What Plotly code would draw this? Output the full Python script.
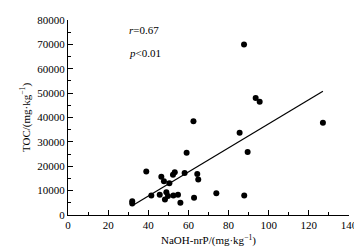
import plotly.graph_objects as go

# NaOH-nrP (mg/kg) vs TOC (mg/kg)
naoh_nrp = [32, 32, 39, 41.5, 45.7, 46.5, 47.8, 48.3, 49.0, 49.8, 50.5, 52.3, 53.2,
            52.5, 54.8, 56.0, 58.1, 59.1, 62.8, 62.5, 64.4, 64.9, 73.9, 85.5, 87.8,
            87.7, 89.5, 93.5, 95.5, 127]
toc = [5600, 4700, 17800, 8000, 8300, 15700, 13800, 6400, 9300, 7800, 13000, 16500, 17500,
       8000, 8300, 5000, 17200, 25500, 7100, 38500, 16800, 14600, 8900, 33700, 8000,
       70000, 25800, 48000, 46500, 37800]

# regression line endpoints
fit_x = [33, 127]
fit_y = [4300, 50800]

x_ticks = [0, 20, 40, 60, 80, 100, 120, 140]
y_ticks = [0, 10000, 20000, 30000, 40000, 50000, 60000, 70000, 80000]
y_labels = [str(v) for v in y_ticks]

serif = "Liberation Serif, Times New Roman, serif"

fig = go.Figure()
fig.add_trace(go.Scatter(x=fit_x, y=fit_y, mode="lines",
                         line=dict(color="black", width=1.2), showlegend=False))
fig.add_trace(go.Scatter(x=naoh_nrp, y=toc, mode="markers",
                         marker=dict(color="black", size=6, line=dict(width=0)),
                         showlegend=False))

fig.update_layout(
    width=362, height=250,
    margin=dict(l=60, r=21, t=12, b=43),
    paper_bgcolor="white", plot_bgcolor="white",
    font=dict(family=serif, size=11, color="black"),
    xaxis=dict(range=[0, 140], tickvals=x_ticks, ticks="inside", ticklen=5,
               tickwidth=1, tickcolor="black", showline=True, linecolor="black",
               linewidth=1, showgrid=False, zeroline=False, automargin=False,
               minor=dict(ticks="inside", ticklen=3, dtick=10, tickcolor="black", showgrid=False),
               title=dict(text="NaOH-nrP/(mg·kg<sup>−1</sup>)", standoff=6,
                          font=dict(family=serif, size=11))),
    yaxis=dict(range=[0, 80000], tickvals=y_ticks, ticktext=y_labels, ticks="inside", ticklen=5,
               tickwidth=1, tickcolor="black", showline=True, linecolor="black",
               linewidth=1, showgrid=False, zeroline=False, automargin=False,
               minor=dict(ticks="inside", ticklen=3, dtick=5000, tickcolor="black", showgrid=False),
               title=dict(text="TOC/(mg·kg<sup>−1</sup>)", standoff=4,
                          font=dict(family=serif, size=11))),
    annotations=[
        dict(x=29.5, y=76000, xref="x", yref="y", text="<i>r</i>=0.67", showarrow=False,
             xanchor="left", yanchor="middle", font=dict(family=serif, size=11)),
        dict(x=29.5, y=66500, xref="x", yref="y", text="<i>p</i>&#60;0.01", showarrow=False,
             xanchor="left", yanchor="middle", font=dict(family=serif, size=11)),
    ],
)

fig.write_html("out.html")
